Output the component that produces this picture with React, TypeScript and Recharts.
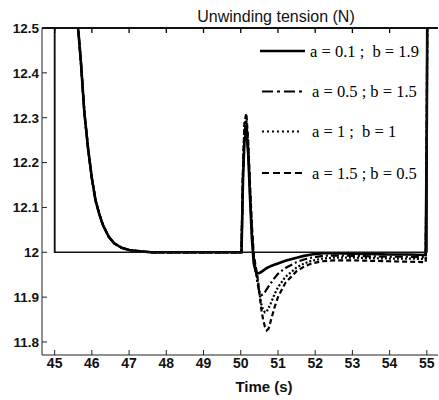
import { LineChart, Line, XAxis, YAxis, ReferenceLine } from "recharts";

// time (s) of the start-up ramp, identical for all four runs
const tStart = [45.55, 45.6, 45.65, 45.7, 45.75, 45.8, 45.85, 45.9, 46.0, 46.1, 46.2, 46.3, 46.45, 46.6, 46.8, 47.0, 47.3, 47.6, 48.5, 49.5];
const startup = [12.6, 12.53, 12.48, 12.43, 12.37, 12.31, 12.27, 12.23, 12.165, 12.115, 12.085, 12.06, 12.035, 12.02, 12.01, 12.005, 12.002, 12.0, 12.0, 12.0];

// time (s) after the disturbance at t = 50 s
const tAfter = [50.02, 50.06, 50.1, 50.15, 50.2, 50.25, 50.3, 50.35, 50.4, 50.45, 50.5, 50.55, 50.6, 50.65, 50.7, 50.75, 50.8, 50.9, 51.0, 51.2, 51.5, 51.7, 51.9, 52.2, 52.5, 53.0, 53.5, 54.0, 54.5, 54.97, 55.0, 55.02];

const curveA01 = [12.0, 12.16, 12.25, 12.27, 12.22, 12.12, 12.03, 11.975, 11.958, 11.953, 11.954, 11.956, 11.959, 11.962, 11.965, 11.967, 11.969, 11.972, 11.975, 11.981, 11.988, 11.992, 11.995, 11.998, 11.998, 11.997, 11.996, 11.995, 11.995, 11.994, 12.3, 12.7];
const curveA05 = [12.0, 12.17, 12.27, 12.29, 12.23, 12.13, 12.04, 11.985, 11.96, 11.93, 11.912, 11.904, 11.906, 11.911, 11.918, 11.924, 11.93, 11.942, 11.952, 11.965, 11.978, 11.984, 11.988, 11.992, 11.993, 11.992, 11.991, 11.99, 11.99, 11.989, 12.3, 12.7];
const curveA1 = [12.0, 12.18, 12.28, 12.3, 12.24, 12.14, 12.05, 11.99, 11.965, 11.94, 11.91, 11.885, 11.872, 11.866, 11.868, 11.876, 11.885, 11.905, 11.922, 11.945, 11.966, 11.975, 11.981, 11.986, 11.988, 11.988, 11.987, 11.986, 11.986, 11.985, 12.3, 12.7];
const curveA15 = [12.0, 12.19, 12.29, 12.31, 12.25, 12.15, 12.06, 11.995, 11.97, 11.945, 11.91, 11.875, 11.85, 11.834, 11.826, 11.83, 11.845, 11.875, 11.9, 11.932, 11.958, 11.968, 11.975, 11.98, 11.982, 11.982, 11.981, 11.98, 11.979, 11.978, 12.3, 12.7];

// reference tension (thin step)
const refTime = [44.999, 45, 55, 55.001];
const refValue = [12.5, 12, 12, 12.5];

const xTicks = [45, 46, 47, 48, 49, 50, 51, 52, 53, 54, 55];
const yTicks = [11.8, 11.9, 12, 12.1, 12.2, 12.3, 12.4, 12.5];

const labels = ["a = 0.1 ;  b = 1.9", "a = 0.5 ; b = 1.5", "a = 1 ;  b = 1", "a = 1.5 ; b = 0.5"];

const series = [
  { label: labels[0], values: curveA01, dash: undefined, legendDash: undefined, width: 2.6 },
  { label: labels[1], values: curveA05, dash: "8 3 2 3", legendDash: "11 4 3 4", width: 2.2 },
  { label: labels[2], values: curveA1, dash: "2 2", legendDash: "2 3", width: 2.2 },
  { label: labels[3], values: curveA15, dash: "5 3", legendDash: "7 4", width: 2.2 },
];

const toPoints = (ts: number[], vs: number[]) => ts.map((t, i) => ({ t, v: vs[i] }));

const X_DOMAIN = [44.66, 55.3];
const Y_DOMAIN = [11.771, 12.5];
const SANS = "'Liberation Sans', Arial, sans-serif";
const SERIF = "'Liberation Serif', 'Times New Roman', serif";

export default function App() {
  return (
    <div style={{ position: "absolute", left: 0, top: 0, width: 439, height: 400, background: "#fff" }}>
      {/* texts sit under the (transparent) chart surface */}
      <svg width={439} height={400} style={{ position: "absolute", left: 0, top: 0 }}>
        <text x={276} y={21.5} textAnchor="middle" fontSize={16} fontFamily={SANS} fill="#111">
          Unwinding tension (N)
        </text>
        <text x={264} y={392} textAnchor="middle" fontSize={15} fontWeight="bold" fontFamily={SANS} fill="#111">
          Time (s)
        </text>
        {series.map((s, i) => {
          const lineY = [51, 91.5, 131.5, 173][i];
          return (
            <g key={s.label}>
              <line
                x1={i === 0 ? 260 : 262}
                x2={i === 0 ? 305 : 302}
                y1={lineY}
                y2={lineY}
                stroke="#000"
                strokeWidth={s.width}
                strokeDasharray={s.legendDash}
              />
              <text
                x={i === 0 ? 310 : 312}
                y={lineY + 5.5}
                fontSize={16.5}
                fontFamily={SERIF}
                fill="#000"
                style={{ whiteSpace: "pre" }}
              >
                {s.label}
              </text>
            </g>
          );
        })}
      </svg>

      <LineChart width={439} height={400} margin={{ top: 27, right: 1, bottom: 0, left: 0 }}>
        <XAxis
          xAxisId="b"
          dataKey="t"
          type="number"
          domain={X_DOMAIN}
          ticks={xTicks}
          interval={0}
          allowDataOverflow
          height={45}
          tickSize={-5}
          tickMargin={8}
          stroke="#222"
          tick={{ fontSize: 14, fontWeight: "bold", fill: "#111", fontFamily: SANS }}
        />
        <XAxis
          xAxisId="top"
          orientation="top"
          dataKey="t"
          type="number"
          domain={X_DOMAIN}
          ticks={xTicks}
          interval={0}
          allowDataOverflow
          height={1}
          tickSize={-5}
          stroke="#000"
          strokeWidth={1.3}
          tick={() => <g />}
        />
        <YAxis
          type="number"
          domain={Y_DOMAIN}
          ticks={yTicks}
          interval={0}
          allowDataOverflow
          width={42}
          tickSize={-5}
          tickMargin={8}
          stroke="#222"
          tickFormatter={(v: number) => String(v)}
          tick={{ fontSize: 13.5, fontWeight: "bold", fill: "#111", fontFamily: SANS }}
        />
        <ReferenceLine xAxisId="b" y={Y_DOMAIN[1]} stroke="#000" strokeWidth={1.3} />
        <ReferenceLine
          xAxisId="b"
          segment={[{ x: refTime[1], y: refValue[1] }, { x: refTime[0], y: refValue[0] }]}
          stroke="#000"
          strokeWidth={1.5}
        />
        <ReferenceLine
          xAxisId="b"
          segment={[{ x: refTime[2], y: refValue[2] }, { x: refTime[3], y: refValue[3] }]}
          stroke="#000"
          strokeWidth={1.5}
        />
        {series.map((s) => (
          <Line
            key={s.label}
            xAxisId="b"
            data={toPoints([...tStart, ...tAfter], [...startup, ...s.values])}
            dataKey="v"
            stroke="#000"
            strokeWidth={s.width}
            strokeDasharray={s.dash}
            dot={false}
            isAnimationActive={false}
          />
        ))}
        <Line
          xAxisId="b"
          data={toPoints(refTime, refValue)}
          dataKey="v"
          stroke="#111"
          strokeWidth={1.5}
          dot={false}
          isAnimationActive={false}
        />
      </LineChart>
    </div>
  );
}
